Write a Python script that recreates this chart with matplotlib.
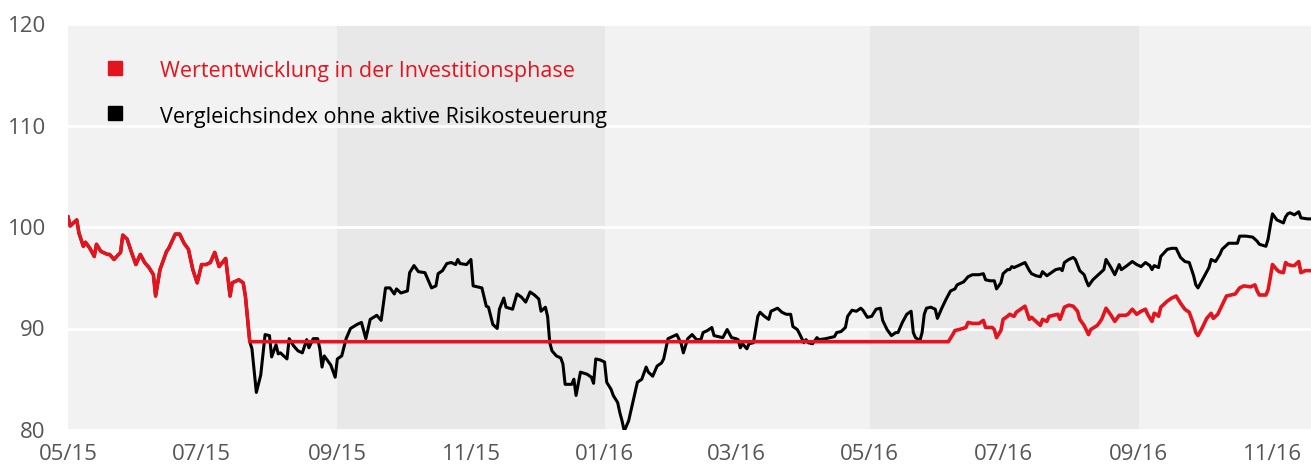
import pandas as pd
import matplotlib
matplotlib.use('Agg')
import matplotlib.pyplot as plt
import matplotlib.dates as mdates

plt.rcParams['font.family'] = ['Open Sans', 'DejaVu Sans']

# days since 2015-05-01
start = pd.Timestamp('2015-05-01')
end_day = 567.6

# common start (both series move together until the switch to cash)
early_days = [0, 1, 4, 5, 7, 8, 10, 12, 13, 15, 18, 19, 21, 24, 25, 27, 29, 31, 33, 35,
              37, 39, 40, 42, 45, 46, 49, 51, 53, 55, 57, 59, 61, 63, 65, 67, 69, 72, 74,
              75, 78, 80, 81, 83]
early_vals = [101.0, 100.1, 100.7, 99.4, 98.1, 98.5, 97.9, 97.1, 98.3, 97.6, 97.3, 97.3,
              96.8, 97.5, 99.2, 98.8, 97.5, 96.3, 97.3, 96.5, 96.0, 95.3, 93.2, 95.8, 97.6,
              97.9, 99.3, 99.3, 98.4, 97.8, 95.8, 94.5, 96.3, 96.3, 96.5, 97.5, 96.1, 96.9,
              93.2, 94.5, 94.8, 94.5, 93.2, 88.7]

index_days = [84, 86, 88, 90, 92, 93, 95, 96, 97, 100, 101, 103, 105, 107, 109, 110, 112,
              114, 115, 116, 117, 120, 122, 123, 125, 127, 129, 132, 134, 136, 138, 141, 143,
              145, 147, 149, 150, 152, 155, 156, 158, 160, 163, 166, 168, 169, 171, 173, 175,
              177, 178, 179, 182, 184, 185, 189, 191, 192, 194, 196, 197, 199, 200, 203, 205,
              207, 209, 211, 213, 215, 216, 218, 219, 220, 221, 223, 225, 226, 227, 230, 231,
              232, 234, 237, 239, 240, 241, 243, 245, 246, 248, 249, 251, 252, 253, 254, 256,
              258, 260, 262, 264, 265, 267, 269, 271, 272, 274, 276, 278, 280, 281, 283, 285,
              287, 289, 290, 292, 294, 295, 297, 299, 301, 303, 305, 306, 307, 308, 310, 311,
              313, 315, 316, 318, 320, 321, 324, 326, 328, 330, 331, 333, 334, 336, 337, 338,
              340, 342, 343, 346, 348, 350, 351, 353, 355, 356, 358, 360, 362, 363, 365, 367,
              369, 371, 372, 374, 376, 378, 379, 381, 383, 385, 386, 387, 389, 390, 391, 392,
              394, 396, 397, 399, 401, 403, 405, 406, 409, 411, 413, 416, 418, 419, 421, 423,
              424, 426, 427, 429, 430, 431, 432, 434, 435, 437, 439, 440, 442, 444, 445, 447,
              449, 451, 453, 454, 455, 457, 459, 460, 462, 464, 465, 466, 468, 471, 473, 474,
              476, 478, 480, 481, 483, 486, 488, 490, 492, 494, 495, 496, 498, 499, 502, 504,
              506, 508, 510, 512, 514, 515, 516, 518, 520, 521, 522, 524, 526, 527, 530, 532,
              534, 535, 538, 541, 543, 544, 547, 548, 549, 550, 552, 553, 555, 556, 557, 558,
              560, 562, 563, 566, 568]
index_vals = [88.0, 83.7, 85.4, 89.4, 89.3, 87.2, 88.4, 87.5, 87.6, 87.0, 89.0, 88.3, 87.8,
              87.6, 88.9, 88.1, 89.0, 89.0, 88.0, 86.2, 87.3, 86.4, 85.2, 87.0, 87.3, 89.0,
              90.0, 90.4, 90.6, 89.0, 90.9, 91.3, 90.8, 94.0, 94.0, 93.4, 93.9, 93.5, 93.7,
              95.5, 96.2, 95.6, 95.5, 94.0, 94.2, 95.4, 95.7, 96.4, 96.5, 96.3, 96.8, 96.4,
              96.3, 96.8, 94.2, 94.0, 92.2, 92.1, 90.4, 90.0, 91.9, 93.0, 92.1, 91.9, 93.4,
              93.1, 92.6, 93.6, 93.3, 92.9, 91.7, 92.1, 91.2, 88.6, 87.8, 87.3, 87.1, 86.5,
              84.5, 84.5, 85.0, 83.4, 85.7, 85.5, 85.2, 84.6, 87.0, 86.9, 86.7, 84.7, 84.0,
              83.4, 82.7, 81.7, 80.9, 79.9, 80.9, 82.8, 84.7, 85.0, 86.2, 85.7, 85.3, 86.3,
              86.6, 87.0, 89.0, 89.2, 89.4, 88.5, 87.6, 89.0, 89.4, 88.9, 88.9, 89.6, 89.8,
              90.1, 89.3, 89.2, 89.1, 89.9, 89.1, 89.0, 88.9, 88.1, 88.5, 88.0, 88.5, 88.6,
              91.2, 91.6, 91.2, 90.9, 91.7, 92.0, 91.6, 91.4, 91.4, 90.2, 89.9, 89.5, 88.6,
              88.9, 88.6, 88.5, 89.1, 88.9, 89.0, 89.1, 89.2, 89.6, 89.7, 90.1, 91.2, 91.8,
              91.7, 92.0, 91.8, 91.1, 91.2, 91.9, 92.0, 90.8, 89.9, 89.3, 89.6, 89.6, 90.6,
              91.4, 91.7, 89.6, 89.1, 88.8, 89.6, 91.4, 92.0, 92.1, 91.9, 91.0, 92.0, 92.9,
              93.7, 93.9, 94.3, 94.6, 95.1, 95.3, 95.3, 95.4, 94.8, 94.7, 94.7, 93.9, 94.5,
              95.4, 95.8, 95.8, 96.1, 96.0, 96.2, 96.3, 96.5, 95.7, 95.4, 95.2, 95.1, 95.6,
              95.2, 95.5, 95.8, 95.9, 95.7, 96.5, 96.8, 97.0, 96.8, 95.7, 95.3, 94.7, 94.2,
              94.8, 95.4, 95.8, 96.8, 96.1, 95.3, 96.3, 95.8, 96.1, 96.6, 96.3, 96.1, 96.5,
              96.2, 95.8, 96.2, 96.0, 97.1, 97.8, 97.9, 97.9, 97.0, 96.6, 96.5, 95.2, 94.3,
              94.0, 94.8, 95.6, 96.0, 96.8, 96.6, 97.3, 97.8, 98.4, 98.4, 98.4, 99.1, 99.1,
              99.0, 98.6, 98.3, 98.1, 98.8, 100.1, 101.3, 100.7, 100.6, 100.4, 101.0, 101.3,
              101.4, 101.2, 101.5, 100.9, 100.8, 100.8]

flat_level = 88.7
fund_days = [402, 404, 405, 407, 410, 411, 413, 416, 418, 419, 422, 423, 424, 426, 427, 429,
             430, 432, 433, 435, 437, 439, 440, 442, 443, 444, 445, 447, 448, 450, 452, 453,
             455, 457, 459, 461, 462, 464, 466, 467, 470, 472, 474, 476, 478, 480, 483, 484,
             486, 488, 490, 492, 493, 495, 496, 497, 498, 499, 502, 504, 506, 508, 510, 512,
             514, 515, 516, 518, 520, 522, 523, 525, 527, 529, 531, 533, 535, 537, 540, 542,
             543, 544, 547, 548, 549, 550, 552, 553, 555, 556, 557, 559, 560, 562, 563, 565,
             568]
fund_vals = [88.7, 89.4, 89.8, 89.9, 90.1, 90.6, 90.5, 90.5, 90.8, 90.1, 90.1, 89.9, 89.1,
             89.8, 90.9, 91.2, 91.4, 91.2, 91.6, 91.9, 92.2, 90.9, 91.1, 90.7, 90.5, 90.3,
             90.9, 90.7, 91.2, 91.3, 91.4, 90.9, 92.1, 92.3, 92.2, 91.7, 90.9, 90.3, 89.4,
             89.9, 90.3, 90.9, 92.0, 91.4, 90.7, 91.3, 91.3, 91.4, 91.9, 91.4, 91.7, 91.9,
             91.4, 90.7, 91.5, 91.4, 91.2, 92.1, 92.7, 93.0, 93.2, 92.5, 91.9, 91.6, 90.4,
             89.6, 89.3, 90.1, 91.0, 91.5, 91.0, 91.4, 92.3, 93.2, 93.3, 93.4, 94.0, 94.2,
             94.1, 94.3, 93.7, 93.3, 93.3, 93.8, 95.0, 96.3, 95.8, 95.6, 95.5, 96.5, 96.3,
             96.2, 96.2, 96.6, 95.5, 95.7, 95.7]

shade_periods = [('2015-09-01', '2016-01-01'), ('2016-05-01', '2016-09-01')]

red = '#e3141e'
labels = ['Wertentwicklung in der Investitionsphase', 'Vergleichsindex ohne aktive Risikosteuerung']

black_days = early_days + index_days
black_vals = early_vals + index_vals
red_days = early_days + fund_days
red_vals = early_vals + [flat_level] + fund_vals[1:]

to_dates = lambda d: start + pd.to_timedelta(d, unit='D')

fig = plt.figure(figsize=(13.11, 4.70), dpi=100)
ax = fig.add_axes([68 / 1311, 1 - 430 / 470, 1 - 68 / 1311, 406 / 470])
ax.set_facecolor('#f2f2f2')
for a, b in shade_periods:
    ax.axvspan(pd.Timestamp(a), pd.Timestamp(b), color='#e8e8e8', lw=0, zorder=0)

ax.plot(to_dates(black_days), black_vals, color='black', lw=2.2, zorder=3)
ax.plot(to_dates(red_days), red_vals, color=red, lw=2.6, zorder=4)

ax.set_xlim(start, to_dates(end_day))
ax.set_ylim(80, 120)
ax.set_yticks([80, 90, 100, 110, 120])
ax.yaxis.grid(True, color='white', lw=2)
ax.set_axisbelow(True)
ax.xaxis.set_major_locator(mdates.MonthLocator(bymonth=[1, 3, 5, 7, 9, 11]))
ax.xaxis.set_major_formatter(mdates.DateFormatter('%m/%y'))
ax.tick_params(axis='both', length=0, labelsize=16, labelcolor='#555555')
ax.tick_params(axis='y', pad=16)
ax.tick_params(axis='x', pad=10)
for s in ax.spines.values():
    s.set_visible(False)

# legend drawn by hand
for i, (lab, col) in enumerate(zip(labels, [red, 'black'])):
    yy = 1 - (68 + 45 * i - 24) / 406
    ax.plot([(115 - 68) / 1243], [yy], marker='s', ms=9.5, color=col,
            transform=ax.transAxes, clip_on=False, zorder=5)
    ax.text((160 - 68) / 1243, yy - 4 / 406, lab, color=col, fontsize=15.5, va='center',
            transform=ax.transAxes)

fig.savefig('out.png', dpi=100)
